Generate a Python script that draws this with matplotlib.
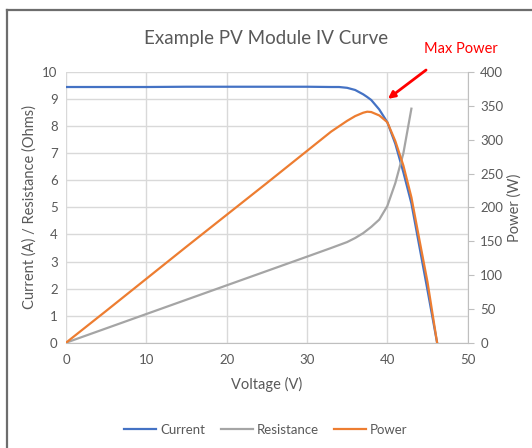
import matplotlib
matplotlib.use("Agg")
import matplotlib.pyplot as plt
from matplotlib.lines import Line2D

# Data
voltage = [0, 5, 10, 15, 20, 25, 30, 33, 34, 35, 36, 37, 37.5, 38, 39, 40, 41, 42, 43,
           44, 45, 46.2]
current = [9.45, 9.45, 9.45, 9.46, 9.46, 9.46, 9.46, 9.45, 9.45, 9.42, 9.34, 9.18, 9.08,
           8.97, 8.62, 8.15, 7.35, 6.3, 5.15, 3.55, 1.95, 0.0]
power = [0, 47, 94.5, 142, 189, 236, 283.5, 312, 320, 328, 335, 340, 341.5, 341, 336,
         326, 298, 262, 215, 152, 90, 0]
res_voltage = [0, 5, 10, 15, 20, 25, 30, 33, 35, 36, 37, 38, 39, 40, 41, 42, 43]
resistance = [0, 0.53, 1.06, 1.59, 2.12, 2.65, 3.18, 3.5, 3.72, 3.87, 4.05, 4.28,
              4.55, 5.05, 5.9, 7.0, 8.65]

text_col = "#595959"
grid_col = "#d9d9d9"
plt.rcParams["font.family"] = ["Lato", "DejaVu Sans"]

fig = plt.figure(figsize=(5.32, 4.48), dpi=100)
ax = fig.add_axes([0.124, 0.235, 0.755, 0.604])
ax2 = ax.twinx()

l1, = ax.plot(voltage, current, color="#4472C4", lw=1.6, label="Current", zorder=3)
l2, = ax.plot(res_voltage, resistance, color="#A5A5A5", lw=1.6, label="Resistance", zorder=3)
l3, = ax2.plot(voltage, power, color="#ED7D31", lw=1.6, label="Power", zorder=3)

ax.set_xlim(0, 50)
ax.set_ylim(0, 10)
ax2.set_ylim(0, 400)
ax.set_xticks(range(0, 51, 10))
ax.set_yticks(range(0, 11))
ax2.set_yticks(range(0, 401, 50))

ax.grid(True, color=grid_col, lw=1.0)
ax.set_axisbelow(True)
for a in (ax, ax2):
    for s in a.spines.values():
        s.set_visible(False)
ax.spines["bottom"].set_visible(True)
ax.spines["bottom"].set_color("#bfbfbf")
ax2.spines["right"].set_visible(True)
ax2.spines["right"].set_color("#bfbfbf")

ax.tick_params(axis="both", length=0, labelsize=9.5, labelcolor=text_col, pad=8)
ax.tick_params(axis="y", pad=6)
ax2.tick_params(axis="y", length=4, color="#bfbfbf", labelsize=9.5, labelcolor=text_col, pad=5)

ax.set_xlabel("Voltage (V)", fontsize=10.5, color=text_col, labelpad=8)
ax.set_ylabel("Current (A) / Resistance (Ohms)", fontsize=10.5, color=text_col, labelpad=4)
ax2.set_ylabel("Power (W)", fontsize=10.5, color=text_col, labelpad=3)

fig.text(0.5, 0.915, "Example PV Module IV Curve", ha="center", va="center",
         fontsize=13.5, color=text_col)

# Max power annotation
ax.annotate("", xy=(39.8, 8.95), xytext=(45.1, 10.14), annotation_clip=False,
            arrowprops=dict(arrowstyle="-|>", color="red", lw=2, mutation_scale=10))
ax.text(49.2, 10.84, "Max Power", color="red", fontsize=10.5, ha="center",
        va="center", clip_on=False)

fig.legend(handles=[l1, l2, l3], loc="center", bbox_to_anchor=(0.5, 0.04), ncol=3,
           frameon=False, fontsize=9.5, labelcolor=text_col, handlelength=2.4,
           handletextpad=0.3, columnspacing=1.2)

# outer chart border (left and top visible)
fig.add_artist(Line2D([0.014, 0.014], [0.0, 0.978], color="#6d6d6d", lw=1.6))
fig.add_artist(Line2D([0.014, 1.0], [0.978, 0.978], color="#6d6d6d", lw=1.6))

fig.savefig("out.png", dpi=100)
